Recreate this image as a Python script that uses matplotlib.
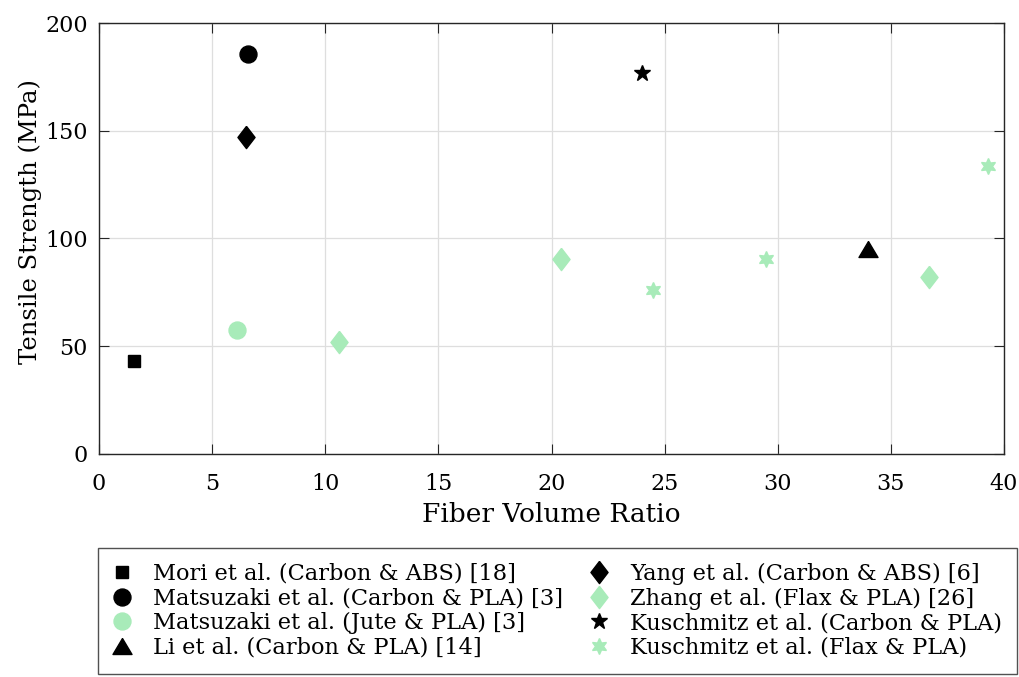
import matplotlib
matplotlib.use("Agg")
import matplotlib.pyplot as plt
from matplotlib.path import Path

# 数据
labels = [
    "Mori et al. (Carbon & ABS) [18]",
    "Matsuzaki et al. (Carbon & PLA) [3]",
    "Matsuzaki et al. (Jute & PLA) [3]",
    "Li et al. (Carbon & PLA) [14]",
    "Yang et al. (Carbon & ABS) [6]",
    "Zhang et al. (Flax & PLA) [26]",
    "Kuschmitz et al. (Carbon & PLA)",
    "Kuschmitz et al. (Flax & PLA)",
]
fiber_ratio = [
    [1.55],
    [6.6],
    [6.1],
    [34.0],
    [6.5],
    [10.6, 20.4, 36.7],
    [24.0],
    [24.5, 29.5, 39.3],
]
tensile_strength = [
    [43.0],
    [185.5],
    [57.4],
    [94.9],
    [147.0],
    [52.0, 90.5, 82.1],
    [176.8],
    [76.1, 90.5, 133.6],
]

# 自定义标记（MATLAB 风格的菱形和三角形）
diamond = Path([(0, 1), (0.77, 0), (0, -1), (-0.77, 0), (0, 1)])
triangle = Path([(0, 0.84), (-1, -0.84), (1, -0.84), (0, 0.84)])

green = "#a8ebb9"
markers = ["s", "o", "o", triangle, diamond, diamond, "*", (6, 1, 0)]
colors = ["black", "black", green, "black", "black", green, "black", green]
sizes = [9, 12.2, 12.2, 13.7, 16, 16, 12, 11.5]

plt.rcParams["font.family"] = ["DejaVu Serif"]

fig = plt.figure(figsize=(10.2, 6.77), dpi=100)
ax = fig.add_axes([99 / 1020, 1 - 454 / 677, 905 / 1020, 431 / 677])

for lab, xs, ys, m, c, s in zip(labels, fiber_ratio, tensile_strength, markers, colors, sizes):
    ax.plot(xs, ys, linestyle="none", marker=m, markersize=s, color=c, label=lab)

ax.set_xlim(0, 40)
ax.set_ylim(0, 200)
ax.set_xticks(range(0, 41, 5))
ax.set_yticks(range(0, 201, 50))
ax.grid(True, color="#dedede", linewidth=0.9)
ax.set_axisbelow(True)
ax.tick_params(direction="in", top=True, right=True, labelsize=16, length=7,
               color="#262626")
ax.tick_params(axis="y", pad=8)
ax.tick_params(axis="x", pad=14)
for sp in ax.spines.values():
    sp.set_color("#262626")
    sp.set_linewidth(1.0)

ax.set_xlabel("Fiber Volume Ratio", fontsize=19, labelpad=5)
ax.set_ylabel("Tensile Strength (MPa)", fontsize=17.5)
ax.yaxis.set_label_coords((42 - 99) / 905, (454 - 222) / 431)

leg = fig.legend(
    loc="upper left",
    bbox_to_anchor=(98 / 1020, 1 - 672 / 677, 919 / 1020, 124 / 677),
    mode="expand",
    ncol=2,
    fontsize=16.2,
    frameon=True,
    fancybox=False,
    edgecolor="#262626",
    handlelength=0.8,
    handletextpad=1.0,
    labelspacing=0.12,
    borderaxespad=0,
    borderpad=0.65,
)
leg.get_frame().set_linewidth(1.0)

plt.savefig("out.png", dpi=100)
